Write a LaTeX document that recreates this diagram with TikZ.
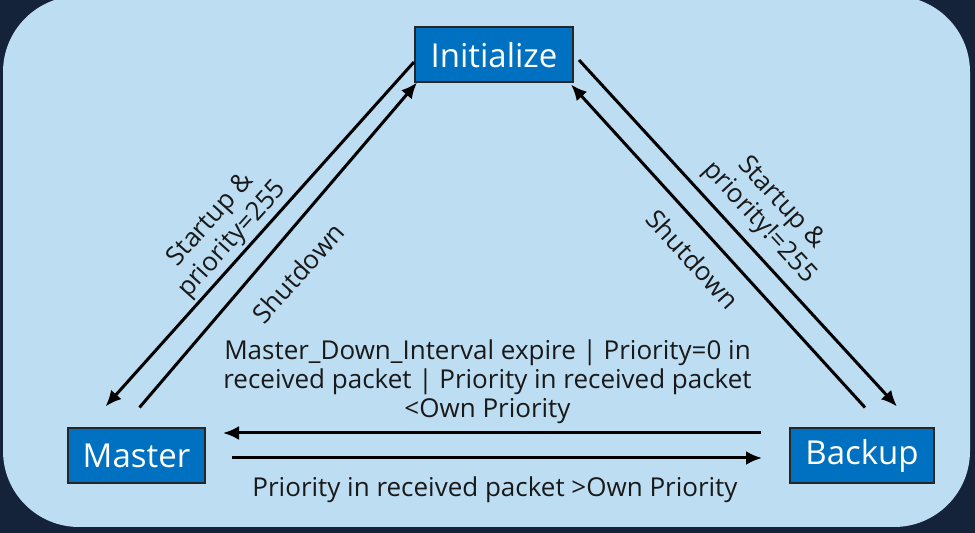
\documentclass[tikz,border=0pt]{standalone}
\usepackage{fontspec}
\setmainfont{Open Sans}
\usetikzlibrary{arrows.meta,calc,positioning}
\definecolor{bgdark}{RGB}{20,35,58}
\definecolor{panelblue}{RGB}{189,221,242}
\definecolor{stateblue}{RGB}{0,112,192}
\tikzset{statebox/.style={draw=black!85,line width=1pt,fill=stateblue,text=white,
		inner sep=0pt,minimum height=27.5pt,font=\fontsize{16.5}{18}\selectfont}}
\tikzset{trans/.style={line width=1.5pt,-{Latex[length=8pt,width=7pt]}}}
\tikzset{translabel/.style={align=center,inner sep=0pt,text=black!90,
		font=\fontsize{13}{14.5}\selectfont}}

\begin{document}
\begin{tikzpicture}[x=0.5pt,y=-0.5pt]
	
	\fill[bgdark] (0,0) rectangle (975,533);
	\useasboundingbox (0,0) rectangle (975,533);
	\fill[panelblue,rounded corners=38pt] (3,-4) rectangle (970,527);
	
	\node[statebox,minimum width=79pt] (init) at (494,55) {Initialize};
	\node[statebox,minimum width=68.5pt] (master) at (136.5,456) {Master};
	\node[statebox,minimum width=72pt] (backup) at (862,456) {Backup};
	
	\draw[trans] ($(init.west)+(0,7)$) -- ($(master.north)+(-31,-21)$);
	\draw[trans] ($(master.north)+(3,-20)$) -- ($(init.south west)+(3,-1)$);
	\draw[trans] ($(init.east)+(5,5)$) -- ($(backup.north)+(35,-21)$);
	\draw[trans] ($(backup.north)+(3,-20)$) -- ($(init.south east)+(-3,1)$);
	\draw[trans] ($(backup.west)+(-28,-23)$) -- ($(master.east)+(17,-23)$);
	\draw[trans] ($(master.east)+(26,2)$) -- ($(backup.west)+(-27,2)$);
	
	\node[translabel,rotate=48] (upleft) at (222,230) {Startup \&\\priority=255};
	\node[translabel,rotate=48] (downleft) at (298,273) {Shutdown};
	\node[translabel,rotate=-47.4] (upright) at (770,213) {Startup \&\\priority!=255};
	\node[translabel,rotate=-47.4] (downright) at (693,259) {Shutdown};
	\node[translabel] (tomaster) at (487.5,382) {Master\_Down\_Interval expire | Priority=0 in\\received packet | Priority in received packet\\<Own Priority};
	\node[translabel] (tobackup) at (495,490) {Priority in received packet >Own Priority};
	
\end{tikzpicture}
\end{document}
